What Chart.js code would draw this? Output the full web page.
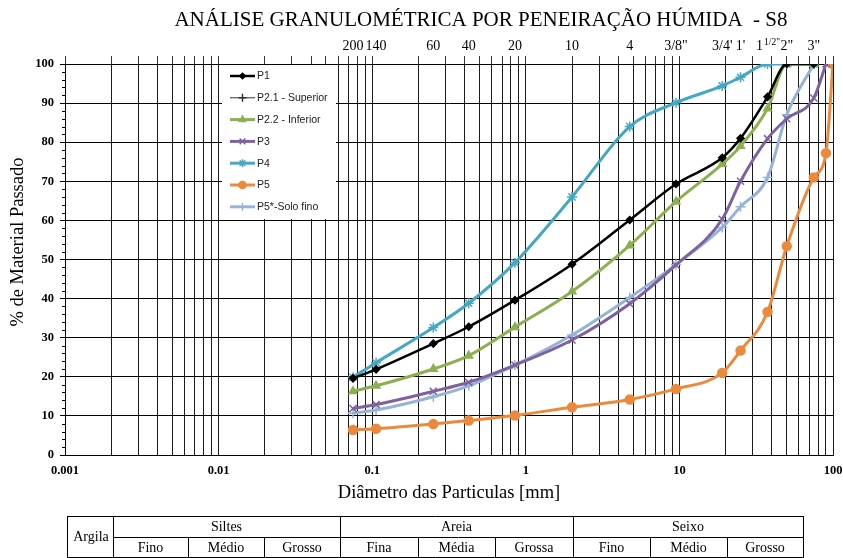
<!DOCTYPE html>
<html><head><meta charset="utf-8">
<script src="https://cdn.jsdelivr.net/npm/chart.js@4"></script>
<style>html,body{margin:0;padding:0;background:#fff;}canvas{display:block}</style>
</head><body>
<canvas id="c" width="843" height="558"></canvas>
<script>
// ---- data ----
const diam = [0.075,0.106,0.25,0.425,0.85,2,4.75,9.5,19,25,37.5,50,75,90,100];
const p1   = [19.6,21.9,28.5,32.8,39.6,48.8,60.1,69.3,76.0,81.0,91.6,100,100,null,null];
const p21  = [null,null,null,null,null,null,null,null,null,null,null,null,null,null,null];
const p22  = [16.3,17.7,22.0,25.4,32.7,41.8,53.6,64.8,74.4,79.0,88.6,100,100,null,null];
const p3   = [11.9,12.9,16.3,18.6,23.0,29.4,38.7,48.6,60.3,70.0,80.9,86.0,91.3,100,null];
const p4   = [19.9,23.6,32.6,38.8,49.2,66.0,84.0,90.1,94.4,96.6,100,100,100,null,null];
const p5   = [6.4,6.7,7.9,8.8,10.1,12.2,14.2,16.9,21.0,26.7,36.6,53.4,71.0,77.2,100];
const p5s  = [10.7,11.5,14.9,17.7,23.0,30.7,40.3,48.7,58.2,63.5,71.0,87.0,100,null,null];
const seriesNames = ['P1','P2.1 - Superior','P2.2 - Inferior','P3','P4','P5','P5*-Solo fino'];

const sieveLabelSizes = [0.075,0.106,0.25,0.425,0.85,2,4.75,9.5,19,25,37.5,50,75];
const sieveLabels = ['200','140','60','40','20','10','4','3/8"',"3/4'","1'",'1 1/2"','2"','3"'];
const decadeLabels = {0.001:'0.001',0.01:'0.01',0.1:'0.1',1:'1',10:'10',100:'100'};
const yTickValues = [0,10,20,30,40,50,60,70,80,90,100];

const tableGroups = ['Siltes','Areia','Seixo'];
const tableSubs = ['Fino','Médio','Grosso','Fina','Média','Grossa','Fino','Médio','Grosso'];

const title = 'ANÁLISE GRANULOMÉTRICA POR PENEIRAÇÃO HÚMIDA  - S8';
const xTitle = 'Diâmetro das Particulas [mm]';
const yTitle = '% de Material Passado';

// grid values 1..9 x 10^k
const gridVals = [];
for (let e = -3; e <= 1; e++) for (let m = 1; m <= 9; m++) gridVals.push(+(m * Math.pow(10, e)).toPrecision(3));
gridVals.push(100);

function pts(arr){ const out=[]; arr.forEach((v,i)=>{ if(v!==null) out.push({x:diam[i],y:v}); }); return out; }

const styles = [
  {c:'#000000', w:2.5, ps:'rectRot', r:3.5},
  {c:'#333333', w:1, ps:'cross', r:5},
  {c:'#8CB050', w:3, ps:'triangle', r:4.5},
  {c:'#7E62A0', w:3, ps:'crossRot', r:5},
  {c:'#45A8C2', w:3, ps:'star', r:5},
  {c:'#EC8A3C', w:3, ps:'circle', r:4.5},
  {c:'#95B3D7', w:3, ps:'cross', r:5}
];
const series = [p1,p21,p22,p3,p4,p5,p5s];
const datasets = series.map((s,i)=>({
  label: seriesNames[i], data: pts(s),
  borderColor: styles[i].c, backgroundColor: styles[i].c,
  borderWidth: styles[i].w, pointStyle: styles[i].ps, pointRadius: styles[i].r,
  pointBorderWidth: 1.5, pointBorderColor: styles[i].c, pointBackgroundColor: styles[i].c,
  cubicInterpolationMode: 'monotone', fill:false
}));

const SERIF = '"Liberation Serif", "Times New Roman", serif';

const deco = {
  id:'deco',
  afterDraw(chart){
    const ctx = chart.ctx, xs = chart.scales.x, ys = chart.scales.y, ca = chart.chartArea;
    ctx.save();
    // minor y ticks
    ctx.strokeStyle = '#000'; ctx.lineWidth = 1;
    for (let v = 0; v <= 100; v += 2) {
      if (v % 10 === 0) continue;
      const y = Math.round(ys.getPixelForValue(v)) + 0.5;
      ctx.beginPath(); ctx.moveTo(ca.left - 3, y); ctx.lineTo(ca.left, y); ctx.stroke();
    }
    // title
    ctx.fillStyle = '#000'; ctx.textBaseline = 'middle'; ctx.textAlign = 'center';
    ctx.font = '21px ' + SERIF;
    ctx.fillText(title, 481, 20);
    // sieve labels on top
    ctx.font = '14px ' + SERIF;
    sieveLabels.forEach((lab,i)=>{
      const x = xs.getPixelForValue(sieveLabelSizes[i]);
      if (lab.indexOf(' ') > 0) {
        const [main, sup] = lab.split(' ');
        ctx.font = '14px ' + SERIF; const w1 = ctx.measureText(main).width;
        ctx.font = '9.5px ' + SERIF; const w2 = ctx.measureText(sup).width;
        const x0 = x - (w1 + w2) / 2;
        ctx.textAlign = 'left';
        ctx.font = '14px ' + SERIF; ctx.fillText(main, x0, 46);
        ctx.font = '9.5px ' + SERIF; ctx.fillText(sup, x0 + w1 + 1, 42);
        ctx.textAlign = 'center'; ctx.font = '14px ' + SERIF;
      } else {
        ctx.fillText(lab, x, 46);
      }
    });
    // axis titles
    ctx.font = '18.5px ' + SERIF;
    ctx.fillText(xTitle, (ca.left + ca.right) / 2, 493);
    ctx.save(); ctx.translate(18, 242); ctx.rotate(-Math.PI / 2);
    ctx.fillText(yTitle, 0, 0); ctx.restore();

    // legend box
    const lx = 222, ly = ca.top + 1, lw = 114, lh = 154;
    ctx.fillStyle = '#fff'; ctx.fillRect(lx, ly, lw, lh);
    ctx.font = '10.5px "Liberation Sans", Arial, sans-serif'; ctx.textAlign = 'left';
    chart.data.datasets.forEach((ds, i) => {
      const y = 76 + i * 21.8;
      ctx.strokeStyle = ds.borderColor; ctx.lineWidth = ds.borderWidth;
      ctx.beginPath(); ctx.moveTo(230, y); ctx.lineTo(255, y); ctx.stroke();
      ctx.fillStyle = ds.borderColor; ctx.lineWidth = 1.5;
      Chart.helpers.drawPoint(ctx, {pointStyle: ds.pointStyle, radius: ds.pointRadius * 0.8, borderWidth: 1.5, rotation:0}, 242.5, y);
      ctx.fillStyle = '#222'; ctx.fillText(ds.label, 257, y + 0.5);
    });

    // classification table
    const cols = [67,113,188,264,340,418,495,573,650,727,803];
    const r0 = 516, r1 = 537, r2 = 558;
    ctx.strokeStyle = '#000'; ctx.lineWidth = 1;
    const hl = (x1,x2,y)=>{ctx.beginPath();ctx.moveTo(x1,y+0.5);ctx.lineTo(x2,y+0.5);ctx.stroke();};
    const vl = (x,y1,y2)=>{ctx.beginPath();ctx.moveTo(x+0.5,y1);ctx.lineTo(x+0.5,y2);ctx.stroke();};
    hl(cols[0], cols[10]+1, r0); hl(cols[1], cols[10]+1, r1); hl(cols[0], cols[10]+1, r2-1);
    vl(cols[0], r0, r2); vl(cols[1], r0, r2); vl(cols[4], r0, r2); vl(cols[7], r0, r2); vl(cols[10], r0, r2);
    [2,3,5,6,8,9].forEach(k => vl(cols[k], r1, r2));
    ctx.fillStyle = '#000'; ctx.textAlign = 'center'; ctx.font = '14px ' + SERIF;
    ctx.fillText('Argila', (cols[0]+cols[1])/2 + 1, (r0+r2)/2);
    tableGroups.forEach((g,k)=> ctx.fillText(g, (cols[1+3*k]+cols[4+3*k])/2, (r0+r1)/2 + 1));
    tableSubs.forEach((s,k)=> ctx.fillText(s, (cols[1+k]+cols[2+k])/2, (r1+r2)/2 + 1));
    ctx.restore();
  }
};

new Chart(document.getElementById('c').getContext('2d'), {
  type:'line',
  data:{datasets},
  plugins:[deco],
  options:{
    responsive:false, animation:false,
    layout:{padding:{left:0,right:0,top:0,bottom:0}},
    plugins:{legend:{display:false}, title:{display:false}, tooltip:{enabled:false}},
    scales:{
      x:{type:'logarithmic', position:'bottom', min:0.001, max:100,
        afterBuildTicks: s => { s.ticks = gridVals.map(v=>({value:v})); },
        afterFit: s => { s.height = 103; s.paddingRight = 10; s.paddingLeft = 0; },
        ticks:{autoSkip:false, maxRotation:0, color:'#000', padding:8,
          font:{family:'Liberation Serif', weight:'bold', size:12.5},
          callback: v => decadeLabels[v] !== undefined ? decadeLabels[v] : ''},
        grid:{color:'#1a1a1a', lineWidth:1, drawTicks:false},
        border:{color:'#000'}
      },
      xTop:{type:'logarithmic', position:'top', min:0.001, max:100,
        afterBuildTicks: s => { s.ticks = gridVals.map(v=>({value:v})); },
        afterFit: s => { s.height = 64; s.paddingRight = 10; s.paddingLeft = 0; },
        ticks:{display:false},
        grid:{drawOnChartArea:false, tickLength:8, color:'#333'},
        border:{color:'#000'}
      },
      y:{min:0, max:100,
        afterBuildTicks: s => { s.ticks = yTickValues.map(v=>({value:v})); },
        afterFit: s => { s.width = 65; s.paddingTop = 0; s.paddingBottom = 0; },
        ticks:{color:'#000', padding:6, font:{family:'Liberation Serif', weight:'bold', size:12.5}},
        grid:{color:'#000', lineWidth:1, tickLength:5},
        border:{color:'#000'}
      }
    }
  }
});
</script>
</body></html>
